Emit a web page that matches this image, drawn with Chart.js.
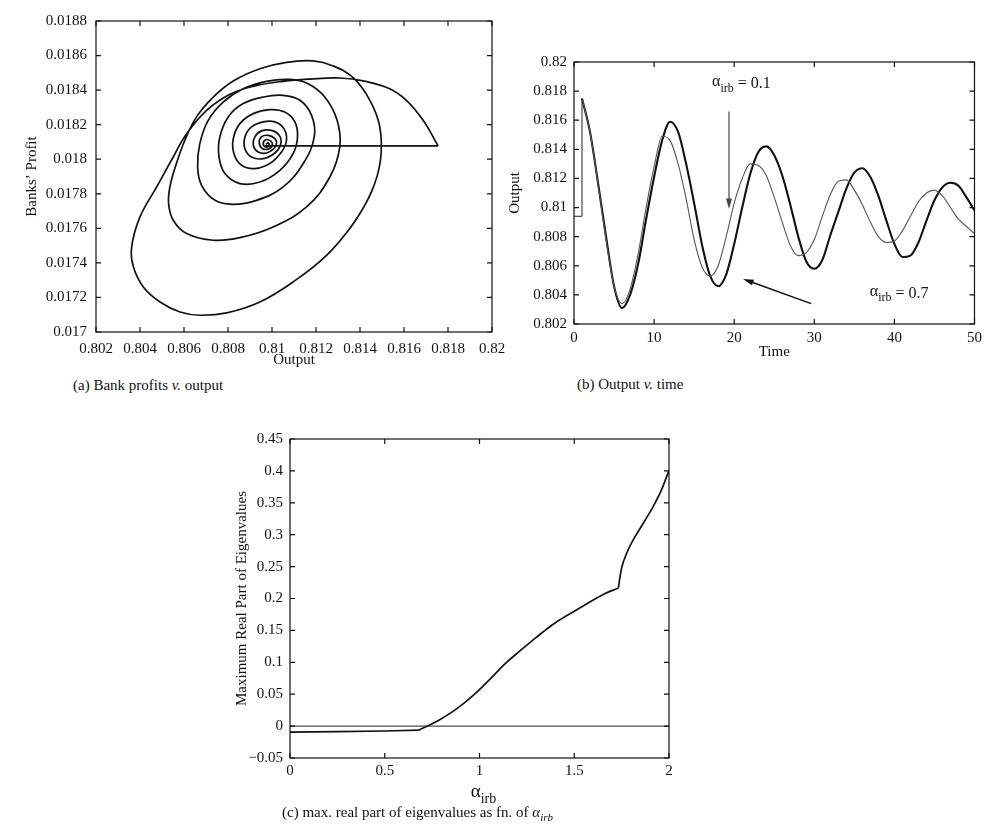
<!DOCTYPE html>
<html>
<head>
<meta charset="utf-8">
<script src="https://cdn.jsdelivr.net/npm/chart.js@4.4.1/dist/chart.umd.min.js"></script>
<style>
  body { margin: 0; background: #fff; }
  #page { position: relative; width: 987px; height: 827px; font-family: 'Liberation Serif', 'DejaVu Serif', serif; color: #111; }
  canvas { position: absolute; }
  .caption { position: absolute; font-size: 15px; white-space: nowrap; line-height: 17px; }
  .caption sub { font-size: 11px; }
</style>
</head>
<body>
<div id="page">
  <canvas id="profitChart" width="520" height="370" style="left:0px;top:0px"></canvas>
  <canvas id="outputChart" width="497" height="362" style="left:490px;top:0px"></canvas>
  <canvas id="eigenChart" width="480" height="410" style="left:200px;top:400px"></canvas>
  <div class="caption" style="left:73px;top:377px">(a) Bank profits <i>v.</i> output</div>
  <div class="caption" style="left:577px;top:376px">(b) Output <i>v.</i> time</div>
  <div class="caption" style="left:282px;top:804px">(c) max. real part of eigenvalues as fn. of <i>α<sub>irb</sub></i></div>
</div>
<script>
// ---- (a) bank profits v. output : trajectory ----
var jumpX = [0.80968, 0.81755];
var jumpY = [0.018077, 0.018077];
var profitX = [
    0.81755, 0.81687, 0.81611, 0.81535, 0.81426, 0.81308, 0.81172, 0.81051, 0.80915, 0.80809, 0.80703, 0.80612, 0.80551, 0.80476,
    0.80400, 0.80362, 0.80370, 0.80415, 0.80491, 0.80582, 0.80672, 0.80794, 0.80945, 0.81096, 0.81248, 0.81369, 0.81452, 0.81493,
    0.81490, 0.81445, 0.81369, 0.81278, 0.81187, 0.81066, 0.80945, 0.80824, 0.80733, 0.80657, 0.80604, 0.80563, 0.80536, 0.80530,
    0.80551, 0.80612, 0.80733, 0.80854, 0.81005, 0.81157, 0.81263, 0.81308,
    0.81296, 0.81240, 0.81164, 0.81081, 0.80975, 0.80869, 0.80778, 0.80710, 0.80672, 0.80662, 0.80680, 0.80741, 0.80821, 0.80930,
    0.81051, 0.81142, 0.81192,
    0.81180, 0.81127, 0.81051, 0.80960, 0.80869, 0.80801, 0.80763, 0.80759, 0.80786, 0.80854, 0.80945, 0.81036, 0.81096, 0.81116,
    0.81104, 0.81058, 0.80990, 0.80915, 0.80854, 0.80824, 0.80827, 0.80862, 0.80922, 0.80990, 0.81043, 0.81066,
    0.81054, 0.81013, 0.80960, 0.80907, 0.80877, 0.80877, 0.80907, 0.80960, 0.81013, 0.81040,
    0.81033, 0.80998, 0.80952, 0.80922, 0.80915, 0.80937, 0.80975, 0.81008, 0.81021,
    0.81013, 0.80983, 0.80952, 0.80942, 0.80957, 0.80987, 0.81002,
    0.80993, 0.80972, 0.80960, 0.80972, 0.80987, 0.80983, 0.80972
];
var profitY = [
    0.018077, 0.018225, 0.018341, 0.018408, 0.018451, 0.018470, 0.018464, 0.018451, 0.018422, 0.018376, 0.018283, 0.018148, 0.018013, 0.017840,
    0.017666, 0.017492, 0.017377, 0.017261, 0.017174, 0.017116, 0.017097, 0.017111, 0.017174, 0.017290, 0.017444, 0.017627, 0.017811, 0.017994,
    0.018187, 0.018341, 0.018472, 0.018540, 0.018569, 0.018561, 0.018524, 0.018453, 0.018360, 0.018245, 0.018110, 0.017965, 0.017840, 0.017743,
    0.017647, 0.017570, 0.017531, 0.017546, 0.017608, 0.017724, 0.017897, 0.018071,
    0.018225, 0.018360, 0.018437, 0.018462, 0.018451, 0.018408, 0.018331, 0.018225, 0.018090, 0.017955, 0.017849, 0.017762, 0.017739, 0.017762,
    0.017840, 0.017975, 0.018129,
    0.018254, 0.018341, 0.018370, 0.018360, 0.018322, 0.018245, 0.018129, 0.018013, 0.017917, 0.017859, 0.017868, 0.017936, 0.018032, 0.018129,
    0.018216, 0.018273, 0.018287, 0.018264, 0.018206, 0.018119, 0.018032, 0.017965, 0.017946, 0.017975, 0.018042, 0.018110,
    0.018177, 0.018216, 0.018216, 0.018187, 0.018129, 0.018061, 0.018013, 0.018003, 0.018036, 0.018090,
    0.018138, 0.018167, 0.018164, 0.018129, 0.018081, 0.018042, 0.018036, 0.018061, 0.018094,
    0.018119, 0.018138, 0.018129, 0.018094, 0.018061, 0.018061, 0.018086,
    0.018106, 0.018113, 0.018090, 0.018071, 0.018079, 0.018094, 0.018086
];

// ---- (b) output v. time ----
var stepT = [0, 1, 1];
var stepOut = [0.8094, 0.8094, 0.8175];
var timeT = [1, 2, 3, 4, 5, 6, 7, 8, 9, 10, 11, 12, 13, 14, 15, 16, 17, 18, 19, 20, 21, 22, 23, 24, 25,
             26, 27, 28, 29, 30, 31, 32, 33, 34, 35, 36, 37, 38, 39, 40, 41, 42, 43, 44, 45, 46, 47, 48, 49, 50];
var outAlpha07 = [0.8175, 0.8152, 0.8117, 0.8080, 0.8046, 0.8031, 0.8040, 0.8061, 0.8092, 0.8121, 0.8146, 0.8159, 0.8152,
                  0.8130, 0.8103, 0.8074, 0.8053, 0.8046, 0.8054, 0.8075, 0.8100, 0.8123, 0.8138, 0.8142, 0.8136, 0.8122,
                  0.8102, 0.8080, 0.8063, 0.8058, 0.8064, 0.8081, 0.8097, 0.8113, 0.8124, 0.8127, 0.8121, 0.8108, 0.8091,
                  0.8075, 0.8066, 0.8067, 0.8076, 0.8091, 0.8105, 0.8114, 0.8117, 0.8115, 0.8107, 0.8098];
var outAlpha01 = [0.8175, 0.8152, 0.8116, 0.8078, 0.8046, 0.8034, 0.8044, 0.8068, 0.8100, 0.8128, 0.8149, 0.8146, 0.8130,
                  0.8106, 0.8078, 0.8059, 0.8053, 0.8060, 0.8080, 0.8103, 0.8120, 0.8130, 0.8129, 0.8122, 0.8107, 0.8090,
                  0.8074, 0.8067, 0.8069, 0.8078, 0.8094, 0.8109, 0.8118, 0.8119, 0.8112, 0.8102, 0.8090, 0.8080, 0.8076,
                  0.8077, 0.8084, 0.8094, 0.8104, 0.8110, 0.8112, 0.8108, 0.8100, 0.8092, 0.8087, 0.8082];
// annotation arrows, in data units: [t, output]
var arrow01From = [19.35, 0.8166], arrow01To = [19.35, 0.8099], label01At = [20.9, 0.8185];
var arrow07From = [29.6, 0.8034], arrow07To = [21.1, 0.8051], label07At = [40.6, 0.8041];

// ---- (c) max real part of eigenvalues v. alpha_irb, three smooth pieces between kinks ----
var eigAlphaFlat = [0, 0.25, 0.5, 0.68];
var eigMaxFlat = [-0.0093, -0.0087, -0.0077, -0.0063];
var eigAlphaRise = [0.68, 0.74, 0.79, 0.86, 0.93, 1.0, 1.07, 1.14, 1.21, 1.28, 1.35, 1.42, 1.5, 1.58, 1.65, 1.733];
var eigMaxRise = [-0.0063, 0.0022, 0.010, 0.0231, 0.0388, 0.0571, 0.078, 0.099, 0.117, 0.1344, 0.1511, 0.1658, 0.1799,
                  0.194, 0.206, 0.2165];
var eigAlphaSteep = [1.733, 1.738, 1.75, 1.777, 1.812, 1.865, 1.917, 1.961, 2.0];
var eigMaxSteep = [0.2165, 0.227, 0.2478, 0.2713, 0.2922, 0.3183, 0.3445, 0.3706, 0.401];
var zeroAlpha = [0, 2];
var zeroLine = [0, 0];

var FONT = "'Liberation Serif', 'DejaVu Serif', serif";
Chart.defaults.font.family = FONT;
Chart.defaults.color = '#111';

function points(xs, ys) {
    var out = [];
    for (var i = 0; i < Math.min(xs.length, ys.length); i++) out.push({ x: xs[i], y: ys[i] });
    return out;
}

function fmt(v) {
    return String(+v.toFixed(5)).replace('-', '\u2212');
}

// boxed frame with inward tick marks, like the matlab originals
var framePlugin = {
    id: 'frame',
    afterDatasetsDraw: function (chart) {
        var ctx = chart.ctx, a = chart.chartArea, x = chart.scales.x, y = chart.scales.y;
        ctx.save();
        ctx.strokeStyle = '#111';
        ctx.lineWidth = 1.2;
        ctx.strokeRect(a.left, a.top, a.right - a.left, a.bottom - a.top);
        ctx.beginPath();
        x.ticks.forEach(function (t) {
            var px = x.getPixelForValue(t.value);
            ctx.moveTo(px, a.bottom); ctx.lineTo(px, a.bottom - 5);
            ctx.moveTo(px, a.top); ctx.lineTo(px, a.top + 5);
        });
        y.ticks.forEach(function (t) {
            var py = y.getPixelForValue(t.value);
            ctx.moveTo(a.left, py); ctx.lineTo(a.left + 5, py);
            ctx.moveTo(a.right, py); ctx.lineTo(a.right - 5, py);
        });
        ctx.stroke();
        ctx.restore();
    }
};

// alpha with "irb" subscript followed by optional text, centred on cx
function drawAlpha(ctx, cx, cy, rest, size) {
    var subSize = Math.round(size * 0.75);
    ctx.save();
    ctx.fillStyle = '#111';
    ctx.textBaseline = 'middle';
    ctx.font = size + 'px ' + FONT;
    var wA = ctx.measureText('\u03b1').width;
    var wR = ctx.measureText(rest).width;
    ctx.font = subSize + 'px ' + FONT;
    var wS = ctx.measureText('irb').width;
    var x0 = cx - (wA + wS + wR) / 2;
    ctx.font = size + 'px ' + FONT;
    ctx.fillText('\u03b1', x0, cy - 2);
    ctx.fillText(rest, x0 + wA + wS, cy);
    ctx.font = subSize + 'px ' + FONT;
    ctx.fillText('irb', x0 + wA, cy + size * 0.3);
    ctx.restore();
}

function drawArrow(ctx, x1, y1, x2, y2, width, color) {
    var ang = Math.atan2(y2 - y1, x2 - x1);
    ctx.save();
    ctx.strokeStyle = color;
    ctx.fillStyle = color;
    ctx.lineWidth = width;
    ctx.beginPath();
    ctx.moveTo(x1, y1);
    ctx.lineTo(x2 - 6 * Math.cos(ang), y2 - 6 * Math.sin(ang));
    ctx.stroke();
    ctx.beginPath();
    ctx.moveTo(x2, y2);
    ctx.lineTo(x2 - 11 * Math.cos(ang - 0.28), y2 - 11 * Math.sin(ang - 0.28));
    ctx.lineTo(x2 - 11 * Math.cos(ang + 0.28), y2 - 11 * Math.sin(ang + 0.28));
    ctx.closePath();
    ctx.fill();
    ctx.restore();
}

function linearAxis(isX, min, max, step, fitSize, labelPad, title, titlePad) {
    return {
        type: 'linear',
        min: min,
        max: max,
        grid: { display: false, drawTicks: false },
        border: { display: false },
        ticks: {
            stepSize: step,
            autoSkip: false,
            maxRotation: 0,
            minRotation: 0,
            padding: labelPad,
            font: { size: 15 },
            callback: function (v) { return fmt(v); }
        },
        title: {
            display: !!title,
            text: title,
            font: { size: 15, lineHeight: 1.2 },
            padding: titlePad
        },
        afterFit: function (scale) {
            if (isX) scale.height = fitSize; else scale.width = fitSize;
        }
    };
}

function curve(xs, ys, color, width, extra) {
    var ds = { data: points(xs, ys), showLine: true, borderColor: color, borderWidth: width, pointRadius: 0, tension: 0 };
    for (var k in extra) ds[k] = extra[k];
    return ds;
}

document.addEventListener('DOMContentLoaded', function () {
    // (a)
    new Chart(document.getElementById('profitChart').getContext('2d'), {
        type: 'scatter',
        data: {
            datasets: [
                curve(jumpX, jumpY, '#111', 1.7, {}),
                curve(profitX, profitY, '#111', 1.7, { tension: 0.4 })
            ]
        },
        options: {
            responsive: false,
            animation: false,
            layout: { padding: { top: 21, right: 28, bottom: 0, left: 0 } },
            plugins: { legend: { display: false }, tooltip: { enabled: false } },
            scales: {
                x: linearAxis(true, 0.802, 0.82, 0.002, 38, 8, 'Output', { top: 0, bottom: 1 }),
                y: linearAxis(false, 0.017, 0.0188, 0.0002, 96, 9, 'Banks\u2019 Profit', { top: 23, bottom: 0 })
            }
        },
        plugins: [framePlugin]
    });

    // (b)
    var annotate = {
        id: 'annotate',
        afterDatasetsDraw: function (chart) {
            var ctx = chart.ctx, x = chart.scales.x, y = chart.scales.y;
            drawArrow(ctx, x.getPixelForValue(arrow01From[0]), y.getPixelForValue(arrow01From[1]),
                x.getPixelForValue(arrow01To[0]), y.getPixelForValue(arrow01To[1]), 1.2, '#444');
            drawArrow(ctx, x.getPixelForValue(arrow07From[0]), y.getPixelForValue(arrow07From[1]),
                x.getPixelForValue(arrow07To[0]), y.getPixelForValue(arrow07To[1]), 1.5, '#111');
            drawAlpha(ctx, x.getPixelForValue(label01At[0]), y.getPixelForValue(label01At[1]), ' = 0.1', 16);
            drawAlpha(ctx, x.getPixelForValue(label07At[0]), y.getPixelForValue(label07At[1]), ' = 0.7', 16);
        }
    };
    new Chart(document.getElementById('outputChart').getContext('2d'), {
        type: 'scatter',
        data: {
            datasets: [
                curve(stepT, stepOut, '#222', 1, {}),
                curve(timeT, outAlpha01, '#555', 1.1, { label: 'alpha_irb = 0.1', cubicInterpolationMode: 'monotone' }),
                curve(timeT, outAlpha07, '#111', 2.1, { label: 'alpha_irb = 0.7', cubicInterpolationMode: 'monotone' })
            ]
        },
        options: {
            responsive: false,
            animation: false,
            layout: { padding: { top: 62, right: 9, bottom: 0, left: 0 } },
            plugins: { legend: { display: false }, tooltip: { enabled: false } },
            scales: {
                x: linearAxis(true, 0, 50, 10, 38, 5, 'Time', { top: 0, bottom: 1 }),
                y: linearAxis(false, 0.802, 0.82, 0.002, 84, 7, 'Output', { top: 16, bottom: 0 })
            }
        },
        plugins: [framePlugin, annotate]
    });

    // (c)
    var alphaTitle = {
        id: 'alphaTitle',
        afterDraw: function (chart) {
            var a = chart.chartArea;
            drawAlpha(chart.ctx, (a.left + a.right) / 2 + 4, a.bottom + 36, '', 19);
        }
    };
    new Chart(document.getElementById('eigenChart').getContext('2d'), {
        type: 'scatter',
        data: {
            datasets: [
                curve(zeroAlpha, zeroLine, '#222', 1, {}),
                curve(eigAlphaFlat, eigMaxFlat, '#111', 1.7, {}),
                curve(eigAlphaRise, eigMaxRise, '#111', 1.7, { cubicInterpolationMode: 'monotone' }),
                curve(eigAlphaSteep, eigMaxSteep, '#111', 1.7, { cubicInterpolationMode: 'monotone' })
            ]
        },
        options: {
            responsive: false,
            animation: false,
            layout: { padding: { top: 39, right: 11, bottom: 0, left: 0 } },
            plugins: { legend: { display: false }, tooltip: { enabled: false } },
            scales: {
                x: linearAxis(true, 0, 2, 0.5, 52, 4, '', { top: 0, bottom: 0 }),
                y: linearAxis(false, -0.05, 0.45, 0.05, 90, 7, 'Maximum Real Part of Eigenvalues', { top: 33, bottom: 0 })
            }
        },
        plugins: [framePlugin, alphaTitle]
    });
});
</script>
</body>
</html>
